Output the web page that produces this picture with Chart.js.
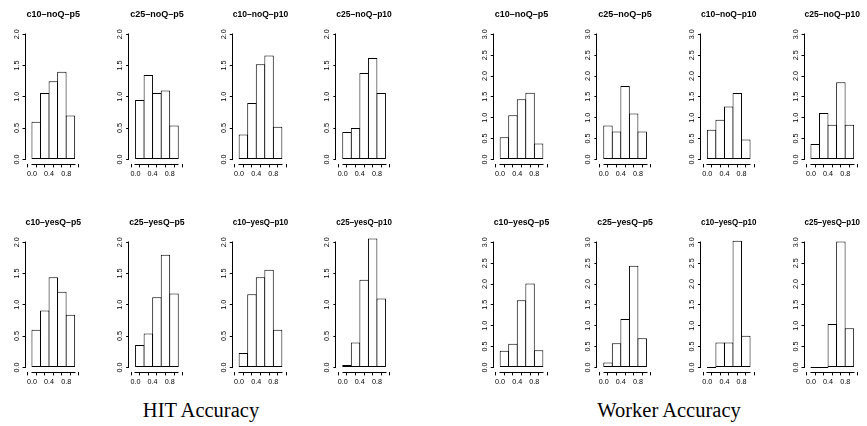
<!DOCTYPE html>
<html>
<head>
<meta charset="utf-8">
<script src="https://cdn.jsdelivr.net/npm/chart.js@4.4.0/dist/chart.umd.min.js"></script>
<style>
html, body { margin: 0; padding: 0; background: #fff; }
#wrap { position: relative; width: 867px; height: 426px; overflow: hidden; }
#wrap canvas { position: absolute; }
.cap { position: absolute; font-family: "Liberation Serif", "Times New Roman", serif; font-size: 20.5px; line-height: 20.5px; color: #000; white-space: nowrap; transform: translateX(-50%); }
</style>
</head>
<body>
<div id="wrap">
	<div class="cap" style="left:201px; top:400px">HIT Accuracy</div>
	<div class="cap" style="left:669px; top:400px">Worker Accuracy</div>
</div>
<script>
// bin centres and axis ticks
var bins = [0.1, 0.3, 0.5, 0.7, 0.9];
var xTicks = [0, 0.2, 0.4, 0.6, 0.8, 1.0];
var hitTicks = [0, 0.5, 1.0, 1.5, 2.0];
var workerTicks = [0, 0.5, 1.0, 1.5, 2.0, 2.5, 3.0];
var titles = ['c10–noQ–p5', 'c25–noQ–p5', 'c10–noQ–p10', 'c25–noQ–p10',
	'c10–yesQ–p5', 'c25–yesQ–p5', 'c10–yesQ–p10', 'c25–yesQ–p10'];

// HIT accuracy (density)
var hitC10NoQP5 = [0.60, 1.06, 1.25, 1.40, 0.70];
var hitC25NoQP5 = [0.95, 1.35, 1.06, 1.10, 0.54];
var hitC10NoQP10 = [0.40, 0.90, 1.52, 1.66, 0.52];
var hitC25NoQP10 = [0.44, 0.50, 1.38, 1.62, 1.06];
var hitC10YesQP5 = [0.60, 0.91, 1.44, 1.21, 0.84];
var hitC25YesQP5 = [0.36, 0.54, 1.12, 1.80, 1.18];
var hitC10YesQP10 = [0.23, 1.17, 1.44, 1.56, 0.60];
var hitC25YesQP10 = [0.04, 0.40, 1.40, 2.06, 1.10];

// worker accuracy (density)
var wrkC10NoQP5 = [0.53, 1.06, 1.44, 1.60, 0.38];
var wrkC25NoQP5 = [0.81, 0.67, 1.76, 1.10, 0.67];
var wrkC10NoQP10 = [0.71, 0.95, 1.27, 1.59, 0.48];
var wrkC25NoQP10 = [0.37, 1.11, 0.83, 1.85, 0.83];
var wrkC10YesQP5 = [0.40, 0.57, 1.61, 2.01, 0.41];
var wrkC25YesQP5 = [0.12, 0.58, 1.16, 2.44, 0.70];
var wrkC10YesQP10 = [0, 0.60, 0.60, 3.04, 0.76];
var wrkC25YesQP10 = [0, 0, 1.04, 3.02, 0.94];

var hitData = [hitC10NoQP5, hitC25NoQP5, hitC10NoQP10, hitC25NoQP10,
	hitC10YesQP5, hitC25YesQP5, hitC10YesQP10, hitC25YesQP10];
var wrkData = [wrkC10NoQP5, wrkC25NoQP5, wrkC10NoQP10, wrkC25NoQP10,
	wrkC10YesQP5, wrkC25YesQP5, wrkC10YesQP10, wrkC25YesQP10];

var sans = '"Liberation Sans", Arial, Helvetica, sans-serif';
var wrap = document.getElementById('wrap');

// R style axis lines: only span from first to last tick
var rAxes = {
	id: 'rAxes',
	afterDraw: function(chart) {
		var ctx = chart.ctx, x = chart.scales.x, y = chart.scales.y;
		var by = Math.round(x.top) + 0.5;
		var bx = Math.round(y.right) - 0.5;
		ctx.save();
		ctx.strokeStyle = '#000';
		ctx.lineWidth = 1;
		ctx.beginPath();
		ctx.moveTo(Math.round(x.getPixelForValue(0)) - 0.5, by);
		ctx.lineTo(Math.round(x.getPixelForValue(1)) + 0.5, by);
		ctx.moveTo(bx, Math.round(y.getPixelForValue(y.ticks[0].value)) + 0.5);
		ctx.lineTo(bx, Math.round(y.getPixelForValue(y.ticks[y.ticks.length - 1].value)) - 0.5);
		ctx.stroke();
		ctx.restore();
	}
};

function makePanel(x0, panelTop, title, vals, yTicks) {
	var left = Math.round(x0) - 28;
	var yw = x0 - 2.05 - left;
	var cv = document.createElement('canvas');
	cv.width = 104;
	cv.height = 200;
	cv.style.left = left + 'px';
	cv.style.top = panelTop + 'px';
	wrap.appendChild(cv);
	var ymax = yTicks[yTicks.length - 1];
	var points = [];
	for (var i in bins) {
		points.push({x: bins[i], y: vals[i]});
	}
	new Chart(cv, {
		type: 'bar',
		data: {
			datasets: [{
				data: points,
				backgroundColor: '#fff',
				borderColor: '#000',
				borderWidth: 1,
				borderSkipped: false,
				barPercentage: 1.1,
				categoryPercentage: 1,
				minBarLength: 1
			}]
		},
		options: {
			responsive: false,
			animation: false,
			devicePixelRatio: 1,
			layout: { padding: { left: 0, right: 104 - yw - 55.5, top: 0, bottom: 0 } },
			plugins: {
				legend: { display: false },
				tooltip: { enabled: false },
				title: {
					display: true,
					text: title,
					fullSize: false,
					color: '#000',
					font: { family: sans, size: 9, weight: 'bold', lineHeight: 1.2 },
					padding: { top: 9.6, bottom: 8.9 }
				}
			},
			scales: {
				x: {
					type: 'linear',
					min: -0.04,
					max: 1.04,
					bounds: 'data',
					afterBuildTicks: function(s) {
						s.ticks = xTicks.map(function(v) { return {value: v}; });
					},
					afterFit: function(s) { s.height = 35.6; },
					grid: { drawOnChartArea: false, drawTicks: true, tickLength: 3, color: '#000', lineWidth: 1 },
					border: { display: false },
					ticks: {
						autoSkip: false,
						maxRotation: 0,
						minRotation: 0,
						padding: 2,
						color: '#000',
						font: { family: sans, size: 7.2 },
						callback: function(v) {
							var k = Math.round(v * 10);
							return (k % 4 === 0 && k < 10) ? (k / 10).toFixed(1) : '';
						}
					}
				},
				y: {
					min: -0.04 * ymax,
					max: 1.04 * ymax,
					bounds: 'data',
					afterBuildTicks: function(s) {
						s.ticks = yTicks.map(function(v) { return {value: v}; });
					},
					afterFit: function(s) { s.width = yw; },
					grid: { drawOnChartArea: false, drawTicks: true, tickLength: 3, color: '#000', lineWidth: 1 },
					border: { display: false },
					ticks: {
						minRotation: 90,
						maxRotation: 90,
						crossAlign: 'center',
						padding: 1,
						color: '#000',
						font: { family: sans, size: 7.2 },
						callback: function(v) { return v.toFixed(1); }
					}
				}
			}
		},
		plugins: [rAxes]
	});
}

for (var p = 0; p < 8; p++) {
	var col = p % 4;
	var rowTop = p < 4 ? 0 : 208;
	makePanel(27.6 + col * 103.6, rowTop, titles[p], hitData[p], hitTicks);
	makePanel(495.8 + col * 103.6, rowTop, titles[p], wrkData[p], workerTicks);
}
</script>
</body>
</html>
